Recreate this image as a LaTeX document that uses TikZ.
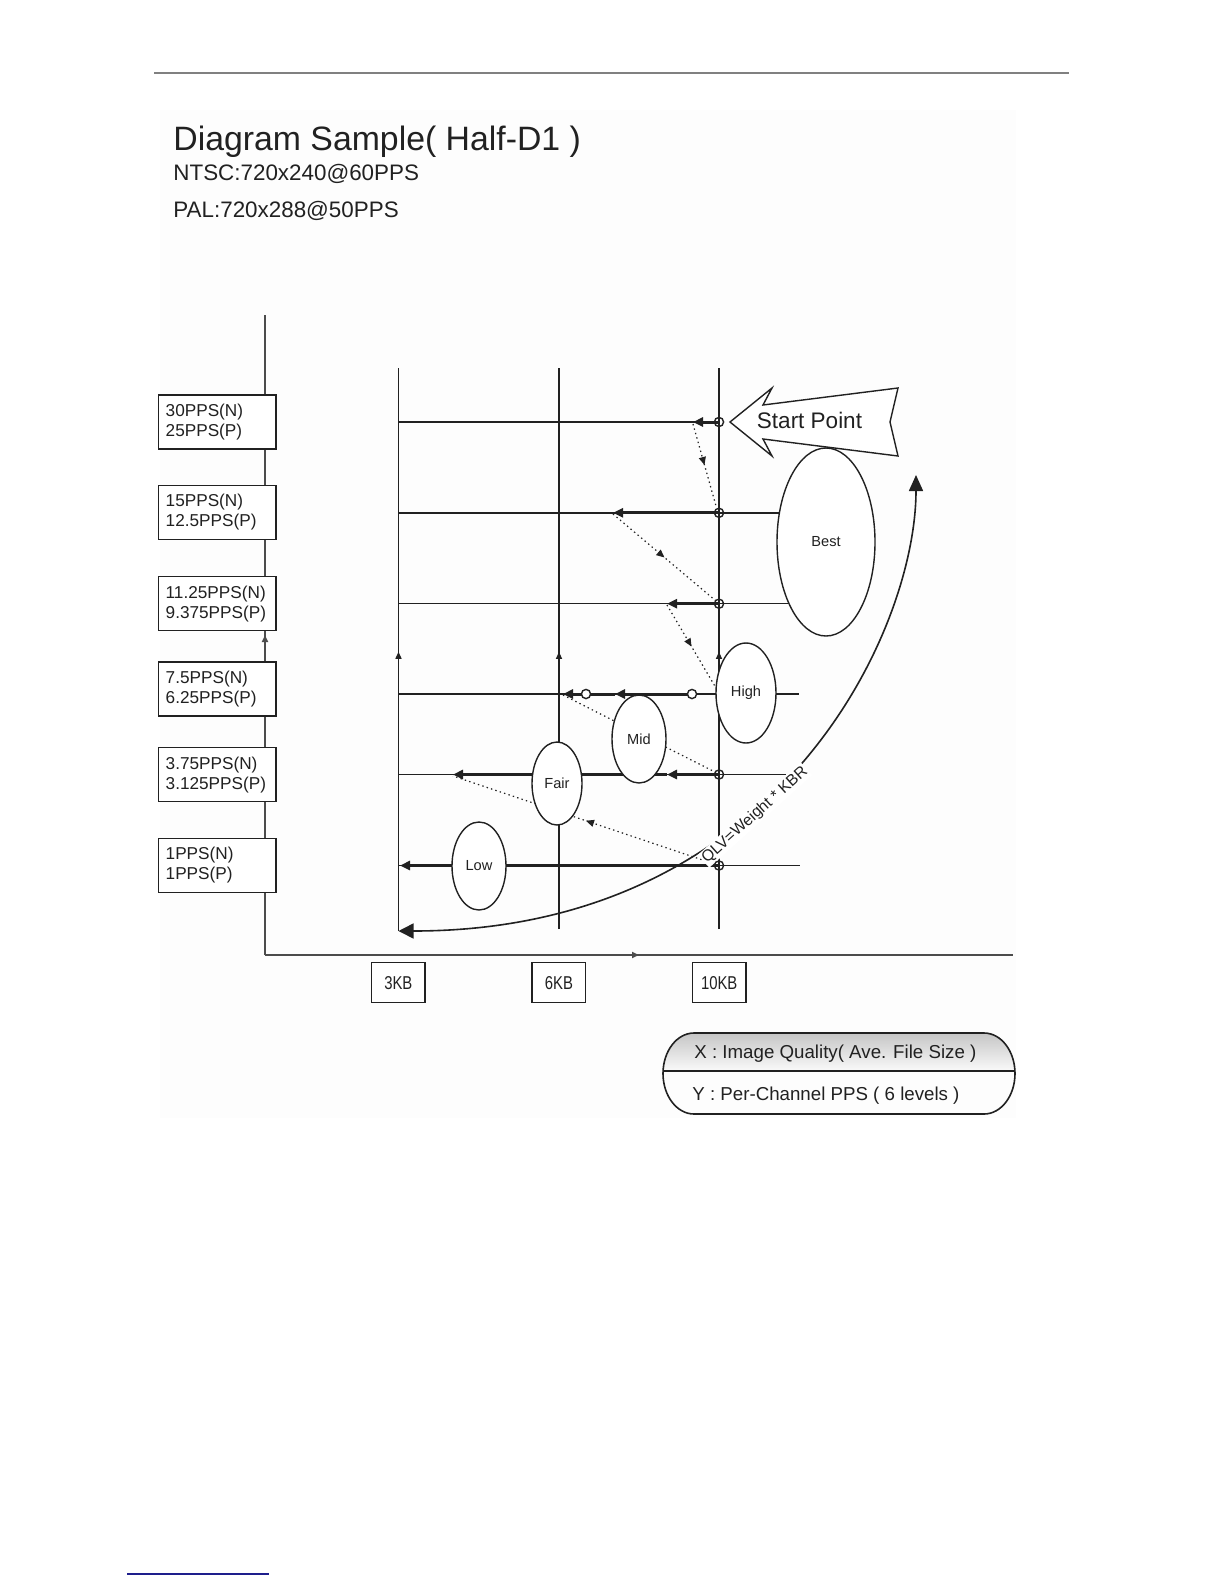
\documentclass[tikz,border=0pt]{standalone}
\usepackage{fontspec}
\setmainfont{Liberation Sans}
\newfontfamily\kbfont{Liberation Sans}[FakeStretch=0.8]
\usetikzlibrary{arrows.meta,shapes.geometric,decorations.markings}
\definecolor{ink}{gray}{0.13}
\definecolor{axisgray}{gray}{0.3}
\definecolor{rulegray}{gray}{0.5}
\definecolor{linkblue}{RGB}{30,30,140}
\definecolor{pagetint}{RGB}{253,253,253}
\tikzset{
  thinline/.style={draw=ink, line width=0.7bp},
  axisline/.style={draw=axisgray, line width=1bp},
  thickarrow/.style={draw=ink, line width=1.5bp, -{Triangle[length=5bp,width=4.5bp]}},
  dotline/.style={draw=ink, line width=0.6bp, dash pattern=on 0.7bp off 1.6bp},
  midtip/.style={postaction={decorate}, decoration={markings, mark=at position #1 with {\arrow{Triangle[length=4bp,width=3.5bp]}}}},
  smalltip/.style={postaction={decorate}, decoration={markings, mark=at position #1 with {\arrow{Triangle[length=3.5bp,width=3bp]}}}},
  ppsbox/.style={draw=ink, line width=0.7bp, fill=white, minimum width=58.85bp, minimum height=27bp, inner xsep=3.7bp, inner ysep=0pt, align=left, text width=51.45bp, text=ink, font=\fontsize{8.6bp}{10bp}\selectfont},
  kbbox/.style={draw=ink, line width=0.7bp, fill=white, minimum width=26.8bp, minimum height=20bp, inner sep=0pt, text=ink, font=\kbfont\fontsize{9.3bp}{10bp}\selectfont},
  levelell/.style={ellipse, draw=ink, line width=0.7bp, fill=white, inner sep=0pt, text=ink, font=\fontsize{7.3bp}{8bp}\selectfont},
  ring/.style={circle, draw=ink, line width=0.7bp, minimum size=4.6bp, inner sep=0pt},
  txt/.style={inner sep=0pt, text=ink},
}
\begin{document}
\begin{tikzpicture}[x=0.5bp, y=-0.5bp]
\useasboundingbox (0,0) rectangle (1224,1584);
% faint page tint
\fill[pagetint] (160,110) rectangle (1016,1118);
% header rule and footer link line
\draw[rulegray, line width=1bp] (154,73) -- (1069,73);
\draw[linkblue, line width=1bp] (127,1574) -- (269,1574);

% titles
\node[txt, anchor=base west, font=\fontsize{16.9bp}{20bp}\selectfont] (title) at (173,150) {Diagram Sample( Half-D1 )};
\node[txt, anchor=base west, font=\fontsize{11.2bp}{13bp}\selectfont] (ntsc) at (173,180) {NTSC:720x240@60PPS};
\node[txt, anchor=base west, font=\fontsize{11.2bp}{13bp}\selectfont] (pal) at (173,217) {PAL:720x288@50PPS};

% axes
\coordinate (O) at (265,955);
\coordinate (Ytop) at (265,315);
\coordinate (Xend) at (1013,955);
\draw[axisline, smalltip=0.5] (O) -- (Ytop);
\draw[axisline, smalltip=0.5] (O) -- (Xend);

% PPS boxes
\node[ppsbox] (b1) at (217.15,422) {30PPS(N)\\25PPS(P)};
\node[ppsbox] (b2) at (217.15,512.5) {15PPS(N)\\12.5PPS(P)};
\node[ppsbox] (b3) at (217.15,603.7) {11.25PPS(N)\\9.375PPS(P)};
\node[ppsbox] (b4) at (217.15,689) {7.5PPS(N)\\6.25PPS(P)};
\node[ppsbox] (b5) at (217.15,774.7) {3.75PPS(N)\\3.125PPS(P)};
\node[ppsbox] (b6) at (217.15,865.5) {1PPS(N)\\1PPS(P)};

% vertical grid lines
\coordinate (v3t) at (398.5,368); \coordinate (v3b) at (398.5,931);
\coordinate (v6t) at (559,368);   \coordinate (v6b) at (559,929);
\coordinate (vTt) at (719,368);   \coordinate (vTb) at (719,929);
\draw[thinline, smalltip=0.496] (v3b) -- (v3t);
\draw[thinline, smalltip=0.494] (v6b) -- (v6t);
\draw[thinline, smalltip=0.494] (vTb) -- (vTt);

% row lines
\draw[thinline] (398.5,422) -- (719,422);
\draw[thinline] (398.5,512.8) -- (826,512.8);
\draw[thinline] (398.5,603.7) -- (826,603.7);
\draw[thinline] (398.5,694) -- (799,694);
\draw[thinline] (398.5,774.5) -- (786,774.5);
\draw[thinline] (398.5,865.5) -- (800,865.5);

% thick arrows
\draw[thickarrow] (719,422) -- (693,422);
\draw[thickarrow] (719,512.8) -- (613,512.8);
\draw[thickarrow] (719,603.7) -- (667,603.7);
\draw[thickarrow] (692,694) -- (615,694);
\draw[thickarrow] (615,694) -- (563,694);
\draw[thickarrow] (719,774.5) -- (667,774.5);
\draw[thickarrow] (667,774.5) -- (453,774.5);
\draw[thickarrow] (719,865.5) -- (400,865.5);

% dotted transitions
\draw[dotline, midtip=0.5] (693,424) -- (716,506);
\draw[dotline, midtip=0.5] (613,514) -- (716,601);
\draw[dotline, midtip=0.5] (667,605) -- (716,688);
\draw[dotline] (563,695) -- (717,773);
\draw[dotline, midtip=0.5] (719,865.5) -- (453,776);

% big curved arrow
\draw[draw=ink, line width=0.8bp, {Triangle[length=7.5bp,width=7.5bp]}-{Triangle[length=8bp,width=7bp]}]
  (398.5,931) .. controls (780,931) and (916,630) .. (916,475);

% level ellipses
\node[levelell, minimum width=49bp, minimum height=94bp] (best) at (826,542) {Best};
\node[levelell, minimum width=30bp, minimum height=50bp] (high) at (746,693) {High};
\node[levelell, minimum width=27bp, minimum height=44bp] (mid) at (639,739) {Mid};
\node[levelell, minimum width=25bp, minimum height=41.5bp] (fair) at (557,783.5) {Fair};
\node[levelell, minimum width=27bp, minimum height=44bp] (low) at (479,866) {Low};

% curve label
\node[txt, fill=white, inner sep=0.6bp, rotate=42, font=\fontsize{7.9bp}{9bp}\selectfont] (qlv) at (755,815) {QLV=Weight * KBR};

% rings
\node[ring] (c1) at (719,422) {};
\node[ring] (c2) at (719,512.8) {};
\node[ring] (c3) at (719,603.7) {};
\node[ring, fill=white] (c4a) at (692,694) {};
\node[ring, fill=white] (c4b) at (586,694) {};
\node[ring] (c5) at (719,774.5) {};
\node[ring] (c6) at (719,865.5) {};

% start point arrow
\draw[thinline, fill=white] (730,422) -- (772,388) -- (763,405) -- (898,388) -- (890,422) -- (898,456) -- (763,439) -- (772,456) -- cycle;
\node[txt, anchor=base, font=\fontsize{11.25bp}{13bp}\selectfont] (start) at (809.5,428) {Start Point};

% KB boxes
\node[kbbox] (kb3) at (398.35,982.7) {3KB};
\node[kbbox] (kb6) at (558.9,982.7) {6KB};
\node[kbbox] (kb10) at (719.2,982.7) {10KB};

% legend
\begin{scope}
  \clip (694,1033) -- (984,1033) arc[start angle=-90, end angle=90, x radius=31, y radius=40.5] -- (694,1114) arc[start angle=90, end angle=270, x radius=31, y radius=40.5] -- cycle;
  \shade[top color=gray!45, bottom color=gray!4] (660,1033) rectangle (1020,1071);
\end{scope}
\draw[draw=ink, line width=0.8bp] (694,1033) -- (984,1033) arc[start angle=-90, end angle=90, x radius=31, y radius=40.5] -- (694,1114) arc[start angle=90, end angle=270, x radius=31, y radius=40.5] -- cycle;
\draw[draw=ink, line width=0.8bp] (663,1071) -- (1015,1071);
\node[txt, anchor=base west, font=\fontsize{9.35bp}{11bp}\selectfont] (lx) at (694,1058) {X : Image Quality( Ave. File Size )};
\node[txt, anchor=base west, font=\fontsize{9.35bp}{11bp}\selectfont] (ly) at (692,1100) {Y : Per-Channel PPS ( 6 levels )};
\end{tikzpicture}
\end{document}
